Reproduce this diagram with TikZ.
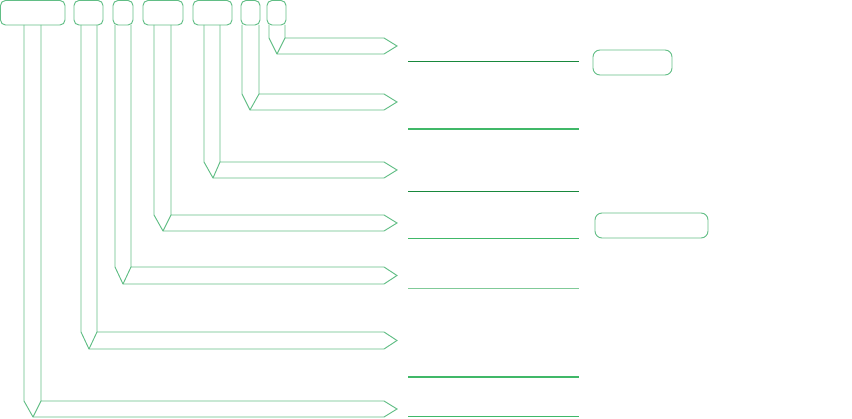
\documentclass[tikz,border=0pt]{standalone}
\begin{document}
\begin{tikzpicture}[x=1pt,y=-1pt,
  outl/.style={draw=arrowgreen,line width=0.95pt,line join=miter},
  topbox/.style={draw=arrowgreen,line width=0.95pt,rounded corners=5pt},
  sidebox/.style={draw=arrowgreen,line width=0.95pt,rounded corners=7pt},
  darkline/.style={draw=darkgreen,line width=0.9pt},
  midline/.style={draw=midgreen,line width=1.1pt},
  lightline/.style={draw=lightgreen,line width=1.6pt}]
\definecolor{arrowgreen}{RGB}{98,190,134}
\definecolor{darkgreen}{RGB}{24,136,60}
\definecolor{midgreen}{RGB}{64,184,104}
\definecolor{lightgreen}{RGB}{128,202,152}
\useasboundingbox (0,0) rectangle (852,419);
% top boxes
\draw[topbox] (0.5,0.5) rectangle (65,25);
\draw[topbox] (74,0.5) rectangle (103,25);
\draw[topbox] (113,0.5) rectangle (133,25);
\draw[topbox] (143,0.5) rectangle (183,25);
\draw[topbox] (193,0.5) rectangle (232,25);
\draw[topbox] (241,0.5) rectangle (260,25);
\draw[topbox] (267,0.5) rectangle (286,25);
% bent arrows: xl, xr, xm, yt, yb
\foreach \xl/\xr/\xm/\yt/\yb in {24/41/33/401/417, 81/97/89/332/349, 115/131/123/267/284, 154/171/163/215/231, 204/220/213/162/178, 242/259/250/94/110, 269/285/277/38/54}{
  \draw[outl] (\xl,25) -- (\xl,\yt) -- (\xm,\yb) -- (384,\yb) -- (397,{(\yt+\yb)/2}) -- (384,\yt) -- (\xr,\yt) -- (\xr,25);
  \draw[outl] (\xr,\yt) -- (\xm,\yb);
}
% right lines
\draw[darkline] (408,61) -- (579,61);
\draw[midline] (408,129) -- (579,129);
\draw[darkline] (408,191) -- (579,191);
\draw[midline] (408,238.5) -- (579,238.5);
\draw[lightline] (408,288.7) -- (579,288.7);
\draw[midline] (408,377) -- (579,377);
\draw[midline] (408,416.3) -- (579,416.3);
% right boxes
\draw[sidebox] (593,50) rectangle (672,75);
\draw[sidebox] (595,213) rectangle (708,238);
\end{tikzpicture}
\end{document}
